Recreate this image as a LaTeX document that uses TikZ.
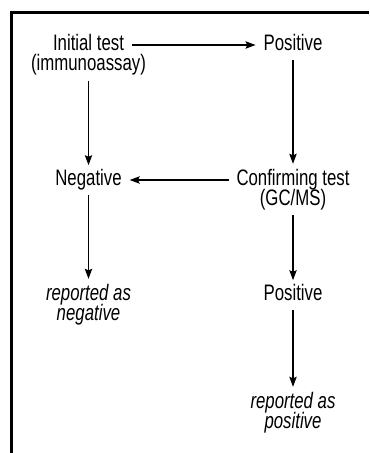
\documentclass[tikz,border=0pt]{standalone}
\usepackage{fontspec}
\setmainfont{Liberation Sans}[FakeStretch=0.75]
\usetikzlibrary{arrows.meta, positioning}

\newcommand\flowfont{\fontsize{16.8pt}{15pt}\selectfont\lineskiplimit -5pt\relax}

\begin{document}
\begin{tikzpicture}[x=0.75pt, y=-0.75pt, line width=1pt,
        >={Stealth[length=7.5pt, width=5.5pt, inset=1.2pt]},
        txt/.style={inner sep=0pt, outer xsep=6pt, outer ysep=4pt, text height=11.2pt, text depth=3pt,
            font=\flowfont},
        twoline/.style={inner sep=0pt, outer xsep=6pt, outer ysep=4pt, anchor=north, align=center,
            font=\flowfont},
        note/.style={twoline, font=\flowfont\itshape}]
        \useasboundingbox (0,0) rectangle (369,453);

        % Frame
        \draw[line width=2.6pt] (11.75,453) |- (369,12.75);

        % Initial test
        \node (init) [twoline] at (88.5,29.3) {Initial test\\\makebox[0pt]{(immunoassay)}};
        \node (pos1) [txt] at (293,45) {Positive};

        % Confirming test
        \node (neg) [txt] at (88.5,180) {Negative};
        \node (conf) [twoline] at (293,163.8) {Confirming test\\(GC/MS)};

        % Results
        \node (repneg) [note] at (88.5,278.8) {reported as\\negative};
        \node (pos2) [txt] at (293,295) {Positive};
        \node (reppos) [note] at (293,386.8) {reported as\\positive};

        % Arrows
        \draw[->] (init.east |- pos1) -- (pos1);
        \draw[->] (init) -- (neg);
        \draw[->] (pos1) -- (conf);
        \draw[->] (conf.west |- neg) -- (neg);
        \draw[->] (neg) -- (repneg);
        \draw[->] (conf) -- (pos2);
        \draw[->] (pos2) -- (reppos);
    \end{tikzpicture}
\end{document}
